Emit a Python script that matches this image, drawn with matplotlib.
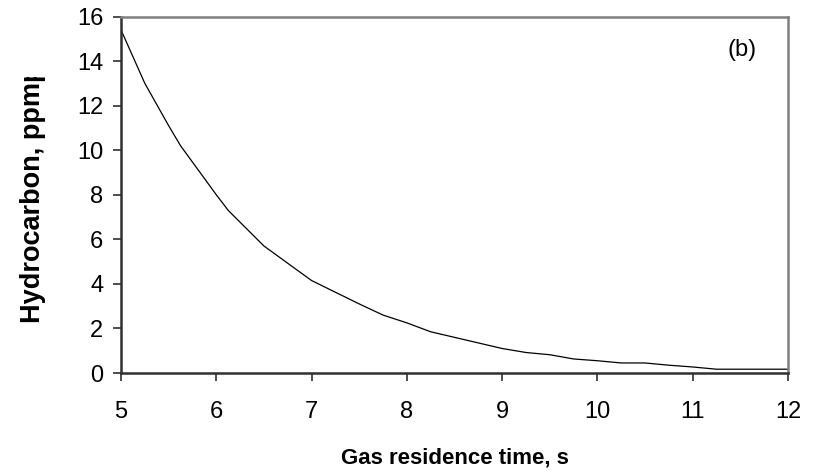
import matplotlib
matplotlib.use("Agg")
import matplotlib.pyplot as plt
from matplotlib.transforms import Bbox

# Data
residence_time = [5.0, 5.25, 5.5, 5.625, 6.0, 6.125, 6.5, 7.0, 7.5, 7.75, 8.0, 8.25,
                  8.5, 8.75, 9.0, 9.25, 9.5, 9.75, 10.0, 10.25, 10.5, 10.75, 11.0,
                  11.25, 11.5, 12.0]
hydrocarbon = [15.4, 13.0, 11.1, 10.2, 8.0, 7.3, 5.7, 4.15, 3.1, 2.6, 2.25, 1.85,
               1.6, 1.35, 1.1, 0.92, 0.82, 0.63, 0.55, 0.45, 0.45, 0.35, 0.27,
               0.17, 0.17, 0.17]
x_ticks = [5, 6, 7, 8, 9, 10, 11, 12]
y_ticks = [0, 2, 4, 6, 8, 10, 12, 14, 16]

plt.rcParams['font.family'] = ['Liberation Sans', 'DejaVu Sans']

W, H = 817, 472
fig = plt.figure(figsize=(W / 100, H / 100), dpi=100)
ax = fig.add_axes([121 / W, 1 - 373 / H, (788 - 121) / W, (373 - 16.5) / H])

ax.plot(residence_time, hydrocarbon, color='black', linewidth=0.9)
ax.set_xlim(5, 12)
ax.set_ylim(0, 16)
ax.set_xticks(x_ticks)
ax.set_yticks(y_ticks)
ax.tick_params(axis='both', direction='out', length=5.8, width=1.2,
               labelsize=17, color='#303030')
ax.tick_params(axis='y', pad=7)
ax.tick_params(axis='x', pad=14)

for s in ['left', 'bottom']:
    ax.spines[s].set_color('#303030')
    ax.spines[s].set_linewidth(1.8)
for s in ['top', 'right']:
    ax.spines[s].set_color('#808080')
    ax.spines[s].set_linewidth(1.8)

ax.text(742 / W, 1 - 50 / H, '(b)', fontsize=17, ha='center', va='center',
        transform=fig.transFigure)

fig.text((121 + 788) / 2 / W, 1 - 458 / H, 'Gas residence time, s',
         fontsize=16, fontweight='bold', ha='center', va='center')

yl = fig.text(33 / W, 1 - 323 / H, 'Hydrocarbon, ppmp', fontsize=19.5,
              fontweight='bold', rotation=90, ha='center', va='bottom')
yl.set_clip_box(Bbox.from_extents(0, 0, W, H - 77))
yl.set_clip_on(True)

fig.savefig('out.png', dpi=100)
